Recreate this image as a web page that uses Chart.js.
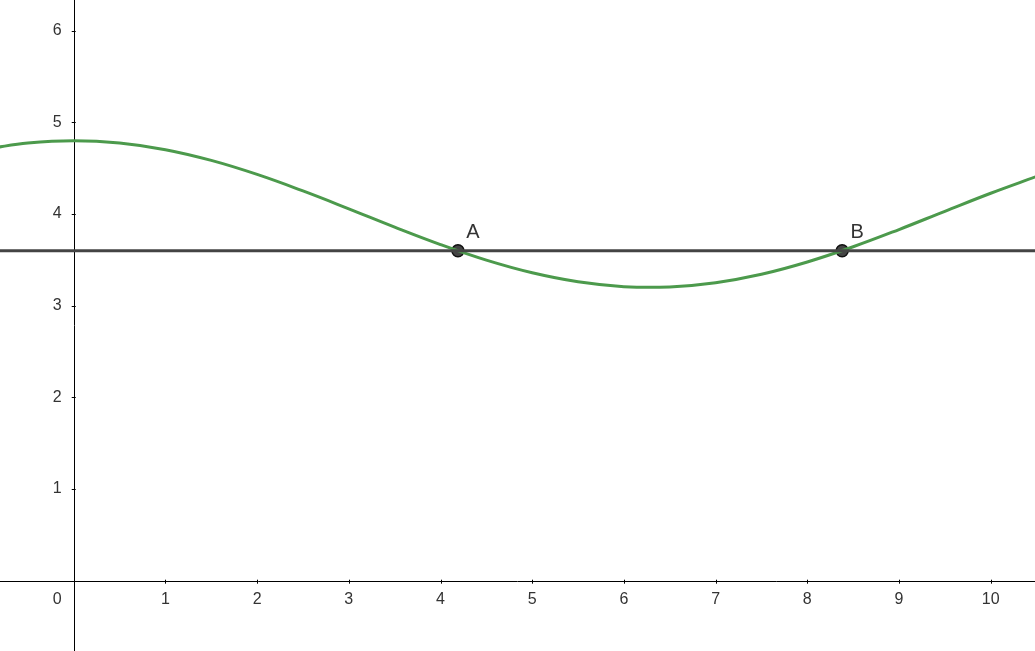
<!DOCTYPE html>
<html>
<head>
<meta charset="utf-8">
<script src="https://cdn.jsdelivr.net/npm/chart.js@4/dist/chart.umd.min.js"></script>
<style>
  html, body { margin: 0; padding: 0; background: #fff; }
  #wrap { width: 1035px; height: 651px; }
</style>
</head>
<body>
<div id="wrap"><canvas id="graph"></canvas></div>
<script>
// curve samples
const curveX = [-0.9, -0.5, 0, 0.5, 1, 1.5, 2, 2.5, 3, 3.5, 4, 4.5, 5, 5.5, 6, 6.5, 7, 7.5, 8, 8.5, 9, 9.5, 10, 10.5];
const curveY = [4.718, 4.775, 4.8, 4.775, 4.702, 4.585, 4.432, 4.252, 4.057, 3.857, 3.667, 3.497, 3.359, 3.261, 3.208, 3.205, 3.251, 3.343, 3.477, 3.643, 3.831, 4.030, 4.227, 4.410];
const lineLevel = 3.6;
const pointNames = ['A', 'B'];
const pointX = [4.19, 8.38];
const pointY = [3.6, 3.6];
const xTicks = [0, 1, 2, 3, 4, 5, 6, 7, 8, 9, 10];
const yTicks = [1, 2, 3, 4, 5, 6];

const X_MIN = -0.804, X_MAX = 10.483, Y_MIN = -0.767, Y_MAX = 6.335;

const axesPlugin = {
    id: 'axesPlugin',
    beforeDatasetsDraw(chart) {
        const c = chart.ctx, xs = chart.scales.x, ys = chart.scales.y;
        const ox = xs.getPixelForValue(0), oy = ys.getPixelForValue(0);
        c.save();
        c.strokeStyle = '#000';
        c.lineWidth = 1;
        c.beginPath();
        c.moveTo(0, Math.round(oy) + 0.5); c.lineTo(chart.width, Math.round(oy) + 0.5);
        c.moveTo(Math.round(ox) + 0.5, 0); c.lineTo(Math.round(ox) + 0.5, chart.height);
        c.stroke();
        c.fillStyle = '#333';
        c.font = '16px "Liberation Sans", Arial, sans-serif';
        c.textBaseline = 'middle';
        xTicks.forEach(v => {
            const px = xs.getPixelForValue(v);
            if (v === 0) {
                c.textAlign = 'right';
                c.fillText('0', ox - 12, oy + 19);
            } else {
                c.textAlign = 'center';
                c.fillText(String(v), px, oy + 19);
                c.beginPath();
                c.moveTo(Math.round(px) + 0.5, oy - 1); c.lineTo(Math.round(px) + 0.5, oy + 3);
                c.stroke();
            }
        });
        c.textAlign = 'right';
        yTicks.forEach(v => {
            const py = ys.getPixelForValue(v);
            c.fillText(String(v), ox - 12, py);
            c.beginPath();
            c.moveTo(ox - 2, Math.round(py) + 0.5); c.lineTo(ox + 2, Math.round(py) + 0.5);
            c.stroke();
        });
        c.restore();
    },
    afterDatasetsDraw(chart) {
        const c = chart.ctx, xs = chart.scales.x, ys = chart.scales.y;
        c.save();
        c.fillStyle = '#333';
        c.font = '20px "Liberation Sans", Arial, sans-serif';
        c.textAlign = 'center';
        c.textBaseline = 'middle';
        pointNames.forEach((n, i) => {
            c.fillText(n, xs.getPixelForValue(pointX[i]) + 15, ys.getPixelForValue(pointY[i]) - 18);
        });
        c.restore();
    }
};

const ctx = document.getElementById('graph').getContext('2d');
const graph = new Chart(ctx, {
    type: 'scatter',
    data: {
        datasets: [
            {
                label: 'line',
                data: [{x: X_MIN - 0.1, y: lineLevel}, {x: X_MAX + 0.1, y: lineLevel}],
                showLine: true,
                borderColor: '#444444',
                borderWidth: 3,
                pointRadius: 0
            },
            {
                label: 'f',
                data: curveX.map((x, i) => ({x: x, y: curveY[i]})),
                showLine: true,
                borderColor: '#4c9a4c',
                borderWidth: 3,
                tension: 0.4,
                pointRadius: 0
            },
            {
                label: 'points',
                data: pointX.map((x, i) => ({x: x, y: pointY[i]})),
                showLine: false,
                backgroundColor: '#444444',
                borderColor: '#111111',
                borderWidth: 1.5,
                pointRadius: 6
            }
        ]
    },
    options: {
        responsive: true,
        maintainAspectRatio: false,
        animation: false,
        layout: { padding: 0, autoPadding: false },
        plugins: { legend: { display: false }, tooltip: { enabled: false } },
        scales: {
            x: { type: 'linear', min: X_MIN, max: X_MAX, display: false },
            y: { type: 'linear', min: Y_MIN, max: Y_MAX, display: false }
        }
    },
    plugins: [axesPlugin]
});
</script>
</body>
</html>
